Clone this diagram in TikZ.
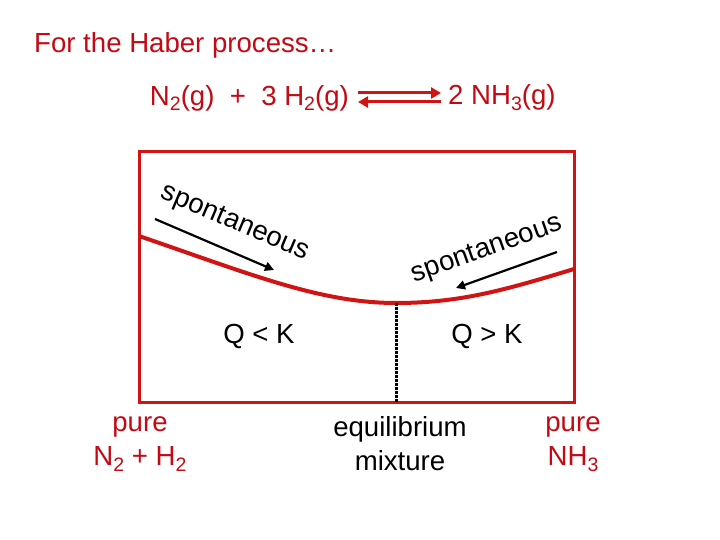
\documentclass[tikz,border=0pt]{standalone}
\usepackage{fontspec}
\setmainfont{Liberation Sans}
\usetikzlibrary{arrows.meta}
\definecolor{linered}{RGB}{208,20,20}
\definecolor{textred}{RGB}{195,10,20}
\newcommand{\mysub}[1]{\raisebox{-0.4ex}{\fontsize{19.5}{19.5}\selectfont #1}}
\tikzset{
  lbl/.style={font=\fontsize{27.6}{34}\selectfont, inner sep=0pt, anchor=center},
  redlbl/.style={lbl, text=textred},
  redline/.style={draw=linered, line width=3pt},
  blackarrow/.style={draw=black, line width=2.2pt, -{Triangle[length=9pt,width=9pt]}},
  eqarrow/.style={draw=linered, line width=3pt, -{Triangle[length=10pt,width=11pt]}}
}
\begin{document}
\begin{tikzpicture}[x=1pt,y=-1pt]
\useasboundingbox (0,0) rectangle (720,540);
% title
\node[redlbl, anchor=west] (title) at (34,45) {For the Haber process\ldots};
% equation
\node[redlbl, anchor=east] (react) at (349,98) {N\mysub{2}(g)\ \ +\ \ 3 H\mysub{2}(g)};
\node[redlbl, anchor=west] (prod) at (448,98) {2 NH\mysub{3}(g)};
\coordinate (fa) at (358,93);
\coordinate (fb) at (441,93);
\coordinate (ra) at (441,102);
\coordinate (rb) at (358,102);
\draw[eqarrow] (fa) -- (fb);
\draw[eqarrow] (ra) -- (rb);
% box
\node[redline, rectangle, minimum width=435pt, minimum height=250pt, inner sep=0pt] (box) at (356.5,277) {};
% curve
\coordinate (cl) at (139,236);
\coordinate (cm) at (396,303);
\coordinate (cr) at (574,269);
\draw[draw=linered, line width=4pt] (cl) .. controls (250,274) and (320,303) .. (cm) .. controls (460,303) and (505,290) .. (cr);
% dotted line
\coordinate (db) at (396,402);
\draw[black, line width=3pt, dash pattern=on 2.5pt off 1.5pt] (cm) -- (db);
% spontaneous arrows
\coordinate (la) at (155,219);
\coordinate (lb) at (274,270);
\draw[blackarrow] (la) -- (lb);
\coordinate (rra) at (557,252);
\coordinate (rrb) at (456,288);
\draw[blackarrow] (rra) -- (rrb);
\node[lbl, rotate=-23] (sl) at (235,223) {spontaneous};
\node[lbl, rotate=19.5] (sr) at (487,250) {spontaneous};
% Q labels
\node[lbl] (qlk) at (259,336) {Q < K};
\node[lbl] (qgk) at (487,336) {Q > K};
% bottom labels
\node[redlbl, align=center] (pl) at (140,444) {pure\\N\mysub{2} + H\mysub{2}};
\node[lbl, align=center] (eq) at (400,444) {equilibrium\\mixture};
\node[redlbl, align=center] (pr) at (573,444) {pure\\NH\mysub{3}};
\end{tikzpicture}
\end{document}
